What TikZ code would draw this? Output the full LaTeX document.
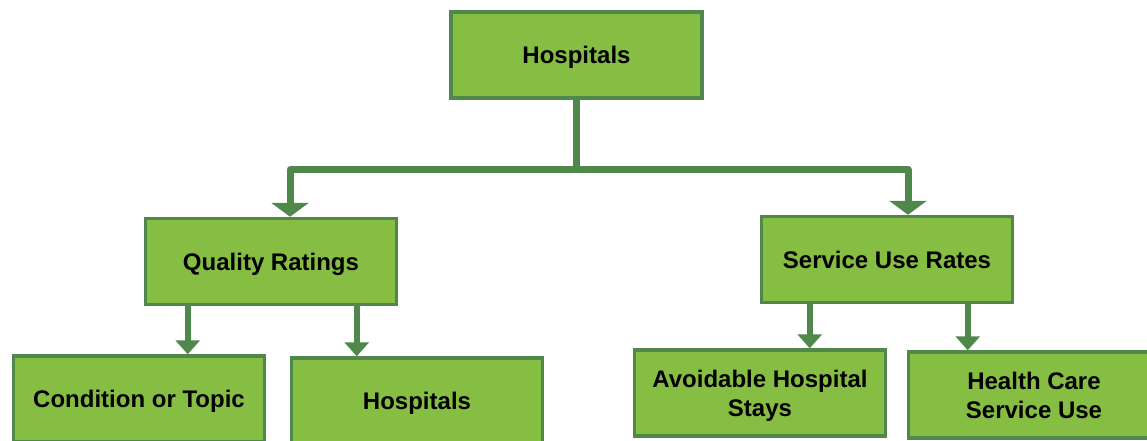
\documentclass[tikz,border=0pt]{standalone}
\usepackage{fontspec}
\setmainfont{Liberation Sans}
\usetikzlibrary{arrows.meta}
\definecolor{boxfill}{RGB}{134,190,68}
\definecolor{boxline}{RGB}{80,136,75}
\newcommand{\boxtext}[1]{\raisebox{-3pt}[\height][\depth]{\begin{tabular}{@{}c@{}}#1\end{tabular}}}
\begin{document}
\begin{tikzpicture}[x=1pt,y=-1pt,
  box/.style={draw=boxline, fill=boxfill, line width=3.5pt, minimum width=251pt, minimum height=86pt, inner sep=0pt, font=\bfseries\fontsize{24}{29}\selectfont},
  mainarrow/.style={draw=boxline, line width=7pt, line join=round, -{Triangle[width=37pt,length=14pt]}},
  subarrow/.style={draw=boxline, line width=5.5pt, -{Triangle[width=24pt,length=14pt]}}]
\fill[white] (0,0) rectangle (1147,440);
\useasboundingbox (0,0) rectangle (1147,440);
\clip (0,0) rectangle (1147,440);

\node[box] (top) at (576.5,55) {\boxtext{Hospitals}};
\node[box] (qr) at (271,261.5) {\boxtext{Quality Ratings}};
\node[box] (sur) at (887,259.5) {\boxtext{Service Use Rates}};
\node[box] (cot) at (139,399) {\boxtext{Condition or Topic}};
\node[box] (hosp) at (417,401) {\boxtext{Hospitals}};
\node[box] (avo) at (760,393) {\boxtext{Avoidable Hospital\\Stays}};
\node[box] (hcs) at (1034,395) {\boxtext{Health Care\\Service Use}};

\coordinate (split) at ([yshift=-70pt]top.south);
\draw[mainarrow] (top.south) -- (split) -| ([xshift=19pt]qr.north);
\draw[mainarrow] (top.south) -- (split) -| ([xshift=21pt]sur.north);

\draw[subarrow] ([xshift=44pt]qr.south west) -- ([xshift=44pt]qr.south west |- cot.north);
\draw[subarrow] ([xshift=213pt]qr.south west) -- ([xshift=213pt]qr.south west |- hosp.north);
\draw[subarrow] ([xshift=50pt]sur.south west) -- ([xshift=50pt]sur.south west |- avo.north);
\draw[subarrow] ([xshift=208pt]sur.south west) -- ([xshift=208pt]sur.south west |- hcs.north);
\end{tikzpicture}
\end{document}
